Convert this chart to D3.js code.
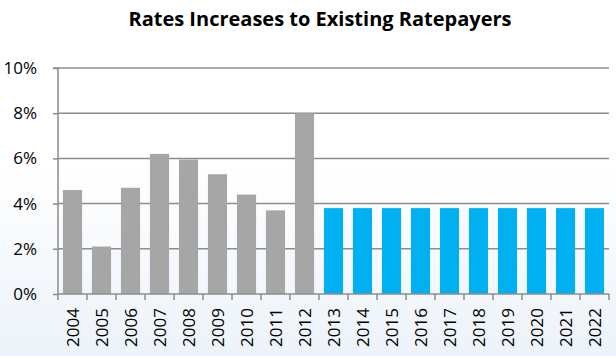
<!DOCTYPE html>
<html><head><meta charset="utf-8">
<script src="https://cdn.jsdelivr.net/npm/d3@7/dist/d3.min.js"></script>
<style>body{margin:0;background:#fff}svg{display:block}</style>
</head><body><svg id="c" width="616" height="356"></svg>
<script>
const title = "Rates Increases to Existing Ratepayers";
const years = ["2004","2005","2006","2007","2008","2009","2010","2011","2012","2013","2014","2015","2016","2017","2018","2019","2020","2021","2022"];
const values = [4.6,2.1,4.7,6.2,5.95,5.3,4.4,3.7,8.0,3.8,3.8,3.8,3.8,3.8,3.8,3.8,3.8,3.8,3.8];
const historicalCount = 9;
const yTicks = [0,2,4,6,8,10];

const svg = d3.select("#c");
const W = 616, H = 356;
const defs = svg.append("defs");
const g1 = defs.append("linearGradient").attr("id","bg").attr("x1",0).attr("y1",0).attr("x2",0).attr("y2",1);
g1.append("stop").attr("offset","0%").attr("stop-color","#ffffff");
g1.append("stop").attr("offset","45%").attr("stop-color","#ffffff");
g1.append("stop").attr("offset","100%").attr("stop-color","#edf3fa");
svg.append("rect").attr("width",W).attr("height",H).attr("fill","url(#bg)");

const m = {l:58, r:609, t:68, b:294};
const x = d3.scaleBand().domain(years).range([m.l, m.r]).paddingInner(0.34).paddingOuter(0.17);
const y = d3.scaleLinear().domain([0,10]).range([m.b, m.t]);

svg.append("text").attr("x",320).attr("y",26).attr("text-anchor","middle")
  .attr("font-family","'Open Sans', sans-serif").attr("font-weight","bold").attr("font-size",20)
  .attr("fill","#000").text(title);

// gridlines
svg.append("g").selectAll("line").data(yTicks.filter(d=>d>0)).join("line")
  .attr("x1",m.l).attr("x2",m.r).attr("y1",d=>y(d)).attr("y2",d=>y(d))
  .attr("stroke","#8c8c8c").attr("stroke-width",1.5);

// bars
svg.append("g").selectAll("rect").data(years).join("rect")
  .attr("x",d=>x(d)).attr("width",x.bandwidth())
  .attr("y",(d,i)=>y(values[i])).attr("height",(d,i)=>y(0)-y(values[i]))
  .attr("fill",(d,i)=> i<historicalCount ? "#a6a6a6" : "#00b0f0");

// y axis
const ya = svg.append("g").attr("transform",`translate(${m.l},0)`)
  .call(d3.axisLeft(y).tickValues(yTicks).tickFormat(d=>d+"%").tickSize(5).tickPadding(16));
ya.select(".domain").attr("stroke","#8c8c8c").attr("stroke-width",1.5).attr("d",`M-5,${m.t}H0V${m.b}`);
ya.selectAll(".tick line").attr("stroke","#8c8c8c").attr("stroke-width",1.5);
ya.selectAll("text").attr("font-family","'Open Sans', sans-serif").attr("font-size",17).attr("fill","#000");

// x axis
const xa = svg.append("g").attr("transform",`translate(0,${m.b})`);
xa.append("line").attr("x1",m.l).attr("x2",m.r).attr("stroke","#8c8c8c").attr("stroke-width",1.5);
const bounds = d3.range(years.length+1).map(i => m.l + i*(m.r-m.l)/years.length);
xa.selectAll("line.t").data(bounds).join("line").attr("class","t")
  .attr("x1",d=>d).attr("x2",d=>d).attr("y1",0).attr("y2",6)
  .attr("stroke","#8c8c8c").attr("stroke-width",1.5);
xa.selectAll("text").data(years).join("text")
  .attr("transform",d=>`translate(${x(d)+x.bandwidth()/2+6.5},14) rotate(-90)`)
  .attr("text-anchor","end")
  .attr("font-family","'Open Sans', sans-serif").attr("font-size",17).attr("fill","#000")
  .text(d=>d);
</script></body></html>
